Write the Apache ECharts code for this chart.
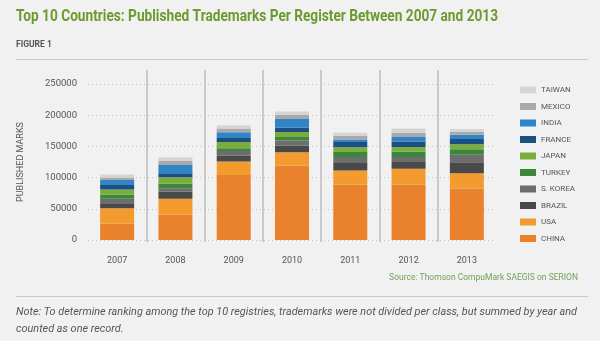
<!DOCTYPE html>
<html>
<head>
<meta charset="utf-8">
<script src="https://cdn.jsdelivr.net/npm/echarts@6/dist/echarts.min.js"></script>
<style>
html,body{margin:0;padding:0;background:#f1f1f1;}
#c{width:600px;height:341px;}
</style>
</head>
<body>
<div id="c"></div>
<script>
const years = ['2007','2008','2009','2010','2011','2012','2013'];
const yTicks = [0, 50000, 100000, 150000, 200000, 250000];
const china  = [26000, 40500, 104000, 119000, 89000, 89000, 82500];
const usa    = [25000, 25500, 22000, 21500, 22500, 25000, 24500];
const brazil = [8000, 11500, 9500, 11000, 12000, 11000, 17500];
const skorea = [7000, 5500, 7000, 8000, 9500, 8000, 12000];
const turkey = [7000, 7000, 4500, 5500, 8000, 9000, 9000];
const japan  = [8000, 10500, 10000, 8000, 7500, 7000, 8000];
const france = [7000, 6500, 6500, 7000, 8500, 9000, 8500];
const india  = [8000, 13000, 9000, 14000, 4000, 7000, 6500];
const mexico = [4000, 7000, 6000, 6500, 6000, 7000, 5000];
const taiwan = [5000, 5500, 5500, 5500, 5000, 6500, 4500];

const seriesDefs = [
  ['CHINA', china, '#ea812c'],
  ['USA', usa, '#f39b2f'],
  ['BRAZIL', brazil, '#494949'],
  ['S. KOREA', skorea, '#6d6d6d'],
  ['TURKEY', turkey, '#3d873a'],
  ['JAPAN', japan, '#79ad3e'],
  ['FRANCE', france, '#1c5083'],
  ['INDIA', india, '#2f85c6'],
  ['MEXICO', mexico, '#a9a9a9'],
  ['TAIWAN', taiwan, '#d5d5d5']
];

const titleText = 'Top 10 Countries: Published Trademarks Per Register Between 2007 and 2013';
const noteLine1 = 'Note: To determine ranking among the top 10 registries, trademarks were not divided per class, but summed by year and';
const noteLine2 = 'counted as one record.';

const FONT = 'Roboto, "Liberation Sans", sans-serif';
const TITLE_FONT = 'bold 16px Roboto, "Liberation Sans", sans-serif';
const NOTE_FONT = 'italic 11px Roboto, "Liberation Sans", sans-serif';

function measure(font, text) {
  const ctx = document.createElement('canvas').getContext('2d');
  ctx.font = font;
  return ctx.measureText(text).width;
}
const titleScale = 482 / measure(TITLE_FONT, titleText);
const noteScale = 561 / measure(NOTE_FONT, noteLine1);

const chart = echarts.init(document.getElementById('c'));
const series = seriesDefs.map(([name, data, color]) => ({
  name, type: 'bar', stack: 'all', data, barWidth: 34,
  xAxisIndex: 0, yAxisIndex: 0,
  itemStyle: { color },
  emphasis: { disabled: true }
}));
series.push({
  type: 'line', xAxisIndex: 1, yAxisIndex: 1, data: [], silent: true
});

chart.setOption({
  backgroundColor: '#f1f1f1',
  animation: false,
  title: [
    { text: 'FIGURE 1', left: 11, top: 35,
      textStyle: { fontFamily: FONT, fontSize: 8.5, fontWeight: 'bold', color: '#555' } },
    { text: 'Source: Thomson CompuMark SAEGIS on SERION', right: 17, top: 268,
      textStyle: { fontFamily: FONT, fontSize: 8.5, fontWeight: 'normal', color: '#6fa25a' } }
  ],
  graphic: [
    { type: 'text', x: 16, y: 17, scaleX: titleScale,
      style: { x: 0, y: 0, text: titleText, font: TITLE_FONT, fill: '#6b9b2f', verticalAlign: 'middle' } },
    { type: 'line', shape: { x1: 16, y1: 59.5, x2: 588, y2: 59.5 }, style: { stroke: '#c9c9c9', lineWidth: 1 } },
    { type: 'line', shape: { x1: 16, y1: 296.5, x2: 588, y2: 296.5 }, style: { stroke: '#c9c9c9', lineWidth: 1 } },
    { type: 'text', x: 16, y: 312, scaleX: noteScale,
      style: { x: 0, y: 0, text: noteLine1, font: NOTE_FONT, fill: '#555', verticalAlign: 'middle' } },
    { type: 'text', x: 16, y: 329, scaleX: noteScale,
      style: { x: 0, y: 0, text: noteLine2, font: NOTE_FONT, fill: '#555', verticalAlign: 'middle' } }
  ],
  legend: {
    orient: 'vertical', left: 515, top: 80,
    itemWidth: 16, itemHeight: 7, itemGap: 6.5,
    icon: 'rect',
    data: seriesDefs.map(d => d[0]).reverse(),
    textStyle: { fontFamily: FONT, fontSize: 8, color: '#555', lineHeight: 10 },
    selectedMode: false
  },
  grid: [
    { left: 88, right: 104, top: 84, bottom: 101 },
    { left: 88, right: 104, top: 70, bottom: 99 }
  ],
  xAxis: [
    { type: 'category', data: years, gridIndex: 0,
      axisLine: { show: false }, axisTick: { show: false },
      axisLabel: { fontFamily: FONT, fontSize: 9, color: '#555', margin: 16 } },
    { type: 'value', gridIndex: 1, min: 0, max: 7, interval: 1,
      axisLine: { show: false }, axisTick: { show: false }, axisLabel: { show: false },
      splitLine: { show: true, showMinLine: false, showMaxLine: false,
        lineStyle: { color: '#bdbdbd', width: 1.5 } } }
  ],
  yAxis: [
    { type: 'value', gridIndex: 0, min: yTicks[0], max: yTicks[yTicks.length - 1], interval: 50000,
      name: 'PUBLISHED MARKS', nameLocation: 'middle', nameRotate: 90, nameGap: 63,
      nameTextStyle: { fontFamily: FONT, fontSize: 9, color: '#555' },
      axisLine: { show: false }, axisTick: { show: false },
      axisLabel: { fontFamily: FONT, fontSize: 9.5, color: '#555', margin: 11,
        formatter: v => String(v) },
      splitLine: { show: true, lineStyle: { color: '#c4c4c4', type: [1, 3], width: 1 } } },
    { type: 'value', gridIndex: 1, min: 0, max: 1, show: false, splitLine: { show: false } }
  ],
  series
});
</script>
</body>
</html>
